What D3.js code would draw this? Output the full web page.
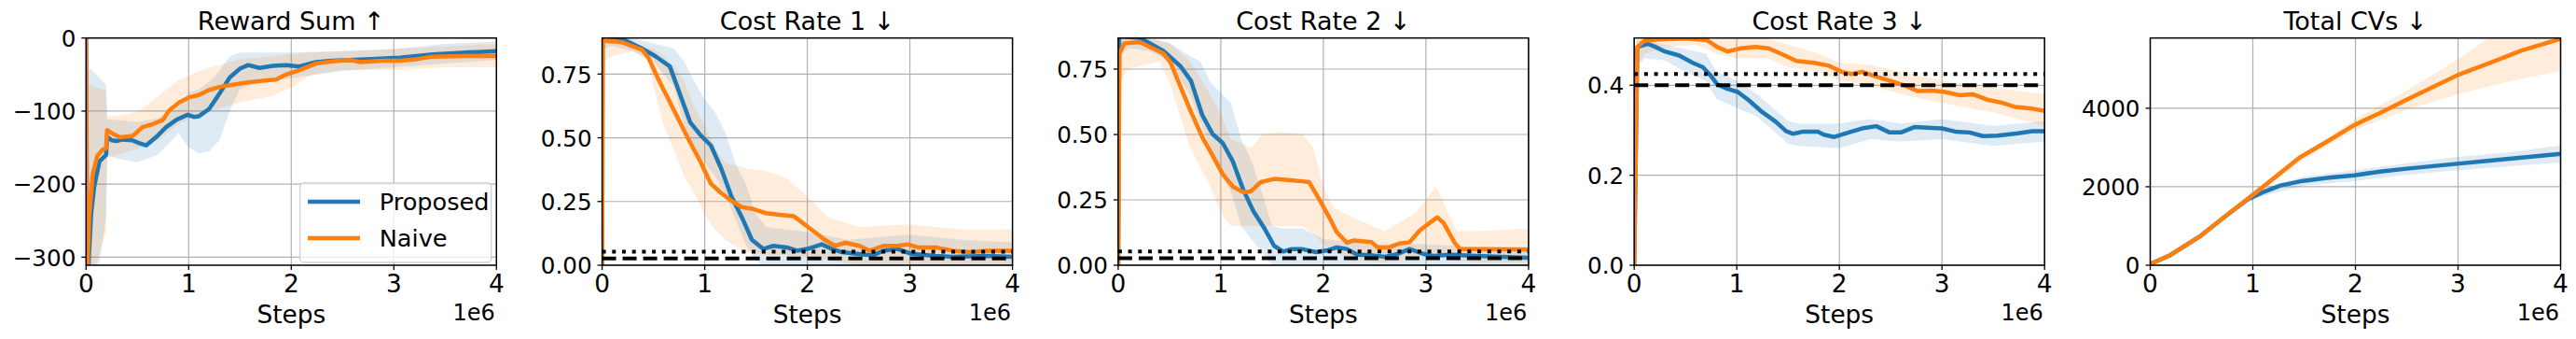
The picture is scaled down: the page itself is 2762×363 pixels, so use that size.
<!DOCTYPE html>
<html>
<head>
<meta charset="utf-8">
<script src="https://cdn.jsdelivr.net/npm/d3@7"></script>
<style>
  body { margin: 0; background: #fff; }
  svg { display: block; font-family: "DejaVu Sans", sans-serif; }
</style>
</head>
<body>
<div id="chart"></div>
<script>
// ---- data (x in units of 1e6 steps) ----
var seriesNames = ["Proposed", "Naive"];
var xTickValues = [0, 1, 2, 3, 4];

// Reward Sum
var rewardPropSteps = [0, 0.012, 0.05, 0.08, 0.13, 0.195, 0.205, 0.25, 0.3, 0.35, 0.45, 0.52, 0.585, 0.68, 0.78, 0.88, 0.99, 1.05, 1.1, 1.2, 1.3, 1.4, 1.5, 1.58, 1.69, 1.82, 1.95, 2.08, 2.24, 2.4, 2.73, 3.06, 3.38, 3.7, 4.0];
var rewardProp = [0, -340, -240, -203, -169, -160, -135, -140, -141, -139, -140, -144, -147, -136, -122, -112, -105, -108, -107, -97, -76, -54, -42, -37, -41, -38, -37, -39, -33, -31, -29, -27, -22.5, -20, -18];
var rewardNaiveSteps = [0, 0.008, 0.03, 0.065, 0.11, 0.16, 0.195, 0.205, 0.26, 0.33, 0.455, 0.55, 0.65, 0.75, 0.81, 0.91, 1.01, 1.1, 1.2, 1.3, 1.43, 1.56, 1.76, 1.85, 1.95, 2.08, 2.24, 2.4, 2.57, 2.67, 2.9, 3.06, 3.22, 3.38, 3.7, 4.0];
var rewardNaive = [0, -340, -245, -186, -161, -153, -151, -126, -131, -136, -134, -122, -118, -112, -99, -88, -81, -78, -71, -67, -64, -61, -58, -57, -50, -44, -35, -32, -30, -33, -31, -31, -29, -25.5, -24.6, -24.6];
var rewardPropBandSteps = [0.01, 0.04, 0.1, 0.15, 0.195, 0.205, 0.3, 0.5, 0.7, 0.9, 1.0, 1.1, 1.2, 1.3, 1.4, 1.5, 1.7, 2.0, 2.5, 3.0, 3.5, 4.0];
var rewardPropLo = [-400, -380, -330, -290, -245, -160, -165, -170, -160, -130, -150, -158, -155, -140, -100, -70, -60, -55, -45, -40, -35, -30];
var rewardPropHi = [-45, -42, -50, -58, -63, -112, -112, -115, -110, -95, -75, -70, -60, -45, -25, -20, -20, -20, -18, -15, -8, -5];
var rewardNaiveBandSteps = [0.01, 0.04, 0.1, 0.15, 0.195, 0.205, 0.3, 0.5, 0.7, 0.9, 1.1, 1.3, 1.5, 1.8, 2.0, 2.2, 2.5, 3.0, 3.5, 4.0];
var rewardNaiveLo = [-400, -360, -310, -285, -265, -165, -160, -152, -140, -118, -103, -97, -88, -80, -68, -50, -44, -44, -40, -40];
var rewardNaiveHi = [-65, -63, -68, -70, -72, -107, -107, -101, -80, -58, -45, -37, -29, -25, -22, -20, -18, -15, -12, -8];

// Cost Rate 1
var cost1PropSteps = [0, 0.005, 0.185, 0.39, 0.52, 0.66, 0.76, 0.86, 0.96, 1.06, 1.16, 1.26, 1.36, 1.46, 1.57, 1.67, 1.8, 1.9, 2.0, 2.14, 2.24, 2.34, 2.54, 2.64, 2.74, 2.88, 3.01, 3.25, 3.42, 3.75, 4.0];
var cost1Prop = [0, 0.9, 0.89, 0.85, 0.82, 0.78, 0.67, 0.56, 0.51, 0.47, 0.38, 0.27, 0.19, 0.10, 0.064, 0.076, 0.07, 0.057, 0.064, 0.082, 0.064, 0.051, 0.042, 0.039, 0.057, 0.064, 0.045, 0.037, 0.033, 0.037, 0.033];
var cost1NaiveSteps = [0, 0.005, 0.185, 0.39, 0.45, 0.56, 0.66, 0.76, 0.86, 0.96, 1.06, 1.16, 1.26, 1.36, 1.46, 1.6, 1.73, 1.87, 1.97, 2.07, 2.17, 2.27, 2.37, 2.51, 2.61, 2.74, 2.88, 2.98, 3.08, 3.25, 3.42, 3.59, 3.75, 4.0];
var cost1Naive = [0, 0.88, 0.876, 0.845, 0.815, 0.72, 0.64, 0.56, 0.48, 0.405, 0.32, 0.283, 0.253, 0.228, 0.222, 0.204, 0.198, 0.192, 0.161, 0.131, 0.10, 0.076, 0.088, 0.076, 0.057, 0.076, 0.076, 0.082, 0.07, 0.07, 0.057, 0.051, 0.057, 0.057];
var cost1PropBandSteps = [0.005, 0.1, 0.3, 0.5, 0.7, 0.8, 0.9, 1.0, 1.1, 1.2, 1.3, 1.4, 1.5, 1.6, 2.0, 2.4, 3.0, 3.5, 4.0];
var cost1PropLo = [0.85, 0.86, 0.84, 0.8, 0.7, 0.55, 0.45, 0.4, 0.35, 0.28, 0.18, 0.08, 0.02, -0.02, -0.02, -0.02, -0.02, -0.02, -0.02];
var cost1PropHi = [0.9, 0.9, 0.89, 0.87, 0.85, 0.8, 0.72, 0.65, 0.6, 0.52, 0.4, 0.32, 0.2, 0.15, 0.13, 0.1, 0.12, 0.1, 0.09];
var cost1NaiveBandSteps = [0.005, 0.1, 0.3, 0.45, 0.5, 0.6, 0.7, 0.8, 0.9, 1.0, 1.1, 1.2, 1.4, 1.6, 1.8, 2.0, 2.2, 2.5, 3.0, 3.5, 4.0];
var cost1NaiveLo = [0.8, 0.82, 0.84, 0.8, 0.7, 0.55, 0.45, 0.35, 0.28, 0.2, 0.14, 0.1, 0.05, 0.04, 0.04, 0.03, 0.02, 0.0, 0.0, 0.0, 0.0];
var cost1NaiveHi = [0.89, 0.89, 0.87, 0.85, 0.85, 0.82, 0.78, 0.72, 0.62, 0.55, 0.46, 0.4, 0.38, 0.37, 0.34, 0.27, 0.19, 0.15, 0.16, 0.14, 0.14];

// Cost Rate 2
var cost2PropSteps = [0, 0.01, 0.21, 0.44, 0.61, 0.71, 0.82, 0.92, 1.02, 1.12, 1.22, 1.32, 1.42, 1.52, 1.61, 1.69, 1.79, 1.93, 2.03, 2.13, 2.23, 2.33, 2.47, 2.6, 2.7, 2.84, 2.97, 3.07, 3.24, 3.48, 4.0];
var cost2Prop = [0, 0.875, 0.87, 0.82, 0.76, 0.705, 0.574, 0.502, 0.467, 0.395, 0.288, 0.205, 0.145, 0.074, 0.052, 0.062, 0.062, 0.05, 0.056, 0.068, 0.062, 0.04, 0.038, 0.032, 0.04, 0.062, 0.044, 0.036, 0.04, 0.036, 0.029];
var cost2NaiveSteps = [0, 0.013, 0.06, 0.21, 0.44, 0.51, 0.61, 0.71, 0.82, 0.92, 1.02, 1.12, 1.22, 1.29, 1.39, 1.52, 1.66, 1.79, 1.86, 1.96, 2.06, 2.13, 2.23, 2.3, 2.47, 2.53, 2.64, 2.74, 2.84, 2.94, 3.04, 3.11, 3.17, 3.28, 3.33, 3.48, 4.0];
var cost2Naive = [0, 0.81, 0.848, 0.854, 0.81, 0.776, 0.68, 0.586, 0.49, 0.42, 0.348, 0.3, 0.279, 0.282, 0.318, 0.33, 0.326, 0.321, 0.318, 0.252, 0.181, 0.127, 0.086, 0.095, 0.088, 0.068, 0.068, 0.083, 0.088, 0.133, 0.163, 0.183, 0.163, 0.086, 0.062, 0.062, 0.06];
var cost2PropBandSteps = [0.01, 0.1, 0.3, 0.5, 0.7, 0.8, 0.9, 1.0, 1.1, 1.2, 1.3, 1.4, 1.5, 1.6, 1.8, 2.0, 2.5, 3.0, 3.5, 4.0];
var cost2PropLo = [0.8, 0.83, 0.82, 0.78, 0.65, 0.55, 0.45, 0.35, 0.28, 0.15, 0.1, 0.05, 0.0, -0.02, -0.02, -0.02, -0.02, -0.02, 0.0, 0.0];
var cost2PropHi = [0.88, 0.88, 0.87, 0.85, 0.8, 0.78, 0.7, 0.66, 0.62, 0.48, 0.4, 0.28, 0.15, 0.14, 0.14, 0.1, 0.08, 0.08, 0.07, 0.07];
var cost2NaiveBandSteps = [0.01, 0.1, 0.4, 0.5, 0.7, 0.9, 1.0, 1.1, 1.3, 1.4, 1.6, 1.8, 1.9, 2.0, 2.1, 2.3, 2.6, 2.9, 3.1, 3.3, 3.5, 4.0];
var cost2NaiveLo = [0.7, 0.75, 0.78, 0.7, 0.45, 0.3, 0.2, 0.15, 0.15, 0.15, 0.15, 0.15, 0.12, 0.08, 0.05, 0.02, 0.01, 0.03, 0.05, 0.02, 0.01, 0.01];
var cost2NaiveHi = [0.86, 0.87, 0.86, 0.85, 0.78, 0.65, 0.58, 0.48, 0.45, 0.5, 0.51, 0.5, 0.45, 0.3, 0.22, 0.18, 0.13, 0.2, 0.3, 0.13, 0.13, 0.14];

// Cost Rate 3
var cost3PropSteps = [0, 0.03, 0.135, 0.2, 0.3, 0.44, 0.57, 0.67, 0.74, 0.81, 0.91, 1.01, 1.11, 1.25, 1.38, 1.48, 1.55, 1.65, 1.79, 1.85, 1.95, 2.09, 2.22, 2.36, 2.49, 2.6, 2.73, 2.9, 3.0, 3.13, 3.27, 3.4, 3.54, 3.74, 3.88, 4.0];
var cost3Prop = [0, 0.485, 0.492, 0.486, 0.475, 0.466, 0.45, 0.44, 0.423, 0.402, 0.392, 0.385, 0.368, 0.34, 0.319, 0.298, 0.292, 0.297, 0.297, 0.29, 0.285, 0.295, 0.304, 0.309, 0.295, 0.295, 0.307, 0.305, 0.304, 0.297, 0.295, 0.287, 0.288, 0.293, 0.298, 0.298];
var cost3NaiveSteps = [0, 0.03, 0.1, 0.24, 0.5, 0.71, 0.81, 0.91, 1.04, 1.18, 1.31, 1.45, 1.58, 1.75, 1.89, 2.02, 2.12, 2.22, 2.36, 2.49, 2.63, 2.76, 2.9, 3.03, 3.17, 3.3, 3.44, 3.57, 3.71, 3.88, 4.0];
var cost3Naive = [0, 0.485, 0.499, 0.502, 0.504, 0.5, 0.485, 0.475, 0.482, 0.485, 0.482, 0.468, 0.454, 0.45, 0.444, 0.43, 0.425, 0.43, 0.419, 0.41, 0.4, 0.387, 0.388, 0.385, 0.378, 0.38, 0.368, 0.362, 0.352, 0.348, 0.343];
var cost3PropBandSteps = [0.02, 0.1, 0.3, 0.5, 0.7, 0.8, 1.0, 1.2, 1.5, 1.6, 2.0, 2.3, 2.6, 3.0, 3.5, 4.0];
var cost3PropLo = [0.44, 0.46, 0.455, 0.43, 0.41, 0.37, 0.35, 0.33, 0.27, 0.265, 0.26, 0.28, 0.275, 0.28, 0.265, 0.275];
var cost3PropHi = [0.5, 0.5, 0.49, 0.48, 0.47, 0.43, 0.41, 0.38, 0.32, 0.315, 0.315, 0.325, 0.315, 0.325, 0.31, 0.32];
var cost3NaiveBandSteps = [0.02, 0.1, 0.3, 0.6, 0.8, 1.0, 1.3, 1.5, 1.8, 2.0, 2.3, 2.6, 3.0, 3.5, 4.0];
var cost3NaiveLo = [0.44, 0.47, 0.485, 0.49, 0.47, 0.46, 0.46, 0.44, 0.43, 0.41, 0.4, 0.38, 0.36, 0.34, 0.31];
var cost3NaiveHi = [0.5, 0.505, 0.51, 0.51, 0.51, 0.505, 0.505, 0.49, 0.47, 0.45, 0.445, 0.43, 0.41, 0.395, 0.38];

// Total CVs
var cvPropSteps = [0, 0.19, 0.48, 0.73, 0.95, 1.11, 1.27, 1.49, 1.74, 1.99, 2.24, 2.52, 2.99, 3.31, 3.62, 4.0];
var cvProp = [30, 250, 727, 1241, 1676, 1873, 2032, 2150, 2229, 2292, 2387, 2466, 2585, 2664, 2743, 2838];
var cvNaiveSteps = [0, 0.19, 0.48, 0.73, 1.0, 1.23, 1.455, 1.74, 1.99, 2.24, 2.49, 2.74, 2.99, 3.31, 3.62, 4.0];
var cvNaive = [30, 250, 727, 1241, 1794, 2270, 2743, 3178, 3573, 3880, 4205, 4522, 4838, 5154, 5470, 5771];
var cvPropBandSteps = [0, 0.19, 0.48, 0.73, 0.95, 1.1, 1.3, 1.5, 2.0, 2.5, 3.0, 3.5, 4.0];
var cvPropLo = [30, 250, 720, 1220, 1600, 1760, 1900, 2030, 2150, 2300, 2420, 2520, 2620];
var cvPropHi = [30, 250, 735, 1260, 1740, 1970, 2120, 2260, 2420, 2600, 2760, 2880, 3050];
var cvNaiveBandSteps = [0, 0.19, 0.48, 0.73, 1.0, 1.5, 2.0, 2.5, 3.0, 3.3, 3.5, 4.0];
var cvNaiveLo = [30, 250, 720, 1230, 1760, 2700, 3450, 3960, 4360, 4560, 4680, 4956];
var cvNaiveHi = [30, 250, 735, 1255, 1830, 2820, 3730, 4450, 5250, 5800, 6100, 6600];

// thresholds
var cost12Dotted = 0.053, cost12Dashed = 0.027;
var cost3Dotted = 0.425, cost3Dashed = 0.4;

function zipXY(xs, ys) { return xs.map(function(x, i) { return {x: x, y: ys[i]}; }); }
function zipBand(xs, lo, hi) { return xs.map(function(x, i) { return {x: x, lo: lo[i], hi: hi[i]}; }); }

var panels = [
  {title: "Reward Sum \u2191", yDomain: [-311, 0], yTicks: [-300, -200, -100, 0], fmt: d3.format("d"),
   lines: [zipXY(rewardPropSteps, rewardProp), zipXY(rewardNaiveSteps, rewardNaive)],
   bands: [zipBand(rewardPropBandSteps, rewardPropLo, rewardPropHi), zipBand(rewardNaiveBandSteps, rewardNaiveLo, rewardNaiveHi)],
   legend: true},
  {title: "Cost Rate 1 \u2193", yDomain: [0, 0.8915], yTicks: [0, 0.25, 0.5, 0.75], fmt: d3.format(".2f"),
   lines: [zipXY(cost1PropSteps, cost1Prop), zipXY(cost1NaiveSteps, cost1Naive)],
   bands: [zipBand(cost1PropBandSteps, cost1PropLo, cost1PropHi), zipBand(cost1NaiveBandSteps, cost1NaiveLo, cost1NaiveHi)],
   dotted: cost12Dotted, dashed: cost12Dashed},
  {title: "Cost Rate 2 \u2193", yDomain: [0, 0.869], yTicks: [0, 0.25, 0.5, 0.75], fmt: d3.format(".2f"),
   lines: [zipXY(cost2PropSteps, cost2Prop), zipXY(cost2NaiveSteps, cost2Naive)],
   bands: [zipBand(cost2PropBandSteps, cost2PropLo, cost2PropHi), zipBand(cost2NaiveBandSteps, cost2NaiveLo, cost2NaiveHi)],
   dotted: cost12Dotted, dashed: cost12Dashed},
  {title: "Cost Rate 3 \u2193", yDomain: [0, 0.505], yTicks: [0, 0.2, 0.4], fmt: d3.format(".1f"),
   lines: [zipXY(cost3PropSteps, cost3Prop), zipXY(cost3NaiveSteps, cost3Naive)],
   bands: [zipBand(cost3PropBandSteps, cost3PropLo, cost3PropHi), zipBand(cost3NaiveBandSteps, cost3NaiveLo, cost3NaiveHi)],
   dotted: cost3Dotted, dashed: cost3Dashed},
  {title: "Total CVs \u2193", yDomain: [0, 5790], yTicks: [0, 2000, 4000], fmt: d3.format("d"),
   lines: [zipXY(cvPropSteps, cvProp), zipXY(cvNaiveSteps, cvNaive)],
   bands: [zipBand(cvPropBandSteps, cvPropLo, cvPropHi), zipBand(cvNaiveBandSteps, cvNaiveLo, cvNaiveHi)]}
];

var colors = ["#1f77b4", "#ff7f0e"];

// ---- layout ----
var W = 2762, H = 363;
var plotW = 440, plotTop = 40.7, plotH = 243.3;
var firstLeft = 92.3, panelStep = 553.3;

var svg = d3.select("#chart").append("svg")
    .attr("width", W).attr("height", H);

panels.forEach(function(p, pi) {
    var left = firstLeft + pi * panelStep;
    var g = svg.append("g").attr("transform", "translate(" + left + "," + plotTop + ")");

    var x = d3.scaleLinear().domain([0, 4]).range([0, plotW]);
    var y = d3.scaleLinear().domain(p.yDomain).range([plotH, 0]);

    g.append("clipPath").attr("id", "clip" + pi)
        .append("rect").attr("width", plotW).attr("height", plotH);

    // grid
    g.append("g").selectAll("line").data(xTickValues).enter().append("line")
        .attr("x1", function(d) { return x(d); }).attr("x2", function(d) { return x(d); })
        .attr("y1", 0).attr("y2", plotH)
        .attr("stroke", "#b0b0b0").attr("stroke-width", 1.2);
    g.append("g").selectAll("line").data(p.yTicks).enter().append("line")
        .attr("x1", 0).attr("x2", plotW)
        .attr("y1", function(d) { return y(d); }).attr("y2", function(d) { return y(d); })
        .attr("stroke", "#b0b0b0").attr("stroke-width", 1.2);

    var body = g.append("g").attr("clip-path", "url(#clip" + pi + ")");

    var area = d3.area()
        .x(function(d) { return x(d.x); })
        .y0(function(d) { return y(d.lo); })
        .y1(function(d) { return y(d.hi); });
    var line = d3.line()
        .x(function(d) { return x(d.x); })
        .y(function(d) { return y(d.y); });

    p.bands.forEach(function(b, si) {
        body.append("path").datum(b).attr("d", area)
            .attr("fill", colors[si]).attr("fill-opacity", 0.15);
    });
    p.lines.forEach(function(l, si) {
        body.append("path").datum(l).attr("d", line)
            .attr("fill", "none").attr("stroke", colors[si])
            .attr("stroke-width", 4.5).attr("stroke-linejoin", "round");
    });

    if (p.dotted !== undefined) {
        body.append("line")
            .attr("x1", 0).attr("x2", plotW)
            .attr("y1", y(p.dotted)).attr("y2", y(p.dotted))
            .attr("stroke", "#000").attr("stroke-width", 4)
            .attr("stroke-dasharray", "4,6.7");
        body.append("line")
            .attr("x1", 0).attr("x2", plotW)
            .attr("y1", y(p.dashed)).attr("y2", y(p.dashed))
            .attr("stroke", "#000").attr("stroke-width", 4)
            .attr("stroke-dasharray", "15,7");
    }

    // frame
    g.append("rect").attr("width", plotW).attr("height", plotH)
        .attr("fill", "none").attr("stroke", "#000").attr("stroke-width", 1.5);

    // x axis
    var xa = g.append("g").selectAll("g").data(xTickValues).enter().append("g")
        .attr("transform", function(d) { return "translate(" + x(d) + "," + plotH + ")"; });
    xa.append("line").attr("y2", 5).attr("stroke", "#000").attr("stroke-width", 1.3);
    xa.append("text").attr("y", 29.3).attr("text-anchor", "middle")
        .style("font-size", "26.4px").text(function(d) { return d; });

    // y axis
    var ya = g.append("g").selectAll("g").data(p.yTicks).enter().append("g")
        .attr("transform", function(d) { return "translate(0," + y(d) + ")"; });
    ya.append("line").attr("x2", -5).attr("stroke", "#000").attr("stroke-width", 1.3);
    ya.append("text").attr("x", -11).attr("y", 9.2).attr("text-anchor", "end")
        .style("font-size", "24.6px")
        .text(function(d) { return p.fmt(d).replace("-", "\u2212"); });

    // labels
    g.append("text").attr("x", plotW / 2).attr("y", 32 - plotTop)
        .attr("text-anchor", "middle").style("font-size", "27px").text(p.title);
    g.append("text").attr("x", plotW / 2).attr("y", 346 - plotTop)
        .attr("text-anchor", "middle").style("font-size", "26.4px").text("Steps");
    g.append("text").attr("x", plotW - 1.5).attr("y", 343 - plotTop)
        .attr("text-anchor", "end").style("font-size", "24px").text("1e6");

    if (p.legend) {
        var lg = g.append("g").attr("transform", "translate(" + (321.7 - left) + "," + (196 - plotTop) + ")");
        lg.append("rect").attr("width", 205).attr("height", 85).attr("rx", 4)
            .attr("fill", "#fff").attr("fill-opacity", 0.8)
            .attr("stroke", "#d0d0d0").attr("stroke-width", 1.3);
        seriesNames.forEach(function(name, si) {
            var ly = 20 + si * 39;
            lg.append("line").attr("x1", 8.3).attr("x2", 64.3)
                .attr("y1", ly).attr("y2", ly)
                .attr("stroke", colors[si]).attr("stroke-width", 4.5);
            lg.append("text").attr("x", 85).attr("y", ly + 8.5)
                .style("font-size", "25.6px").text(name);
        });
    }
});
</script>
</body>
</html>
